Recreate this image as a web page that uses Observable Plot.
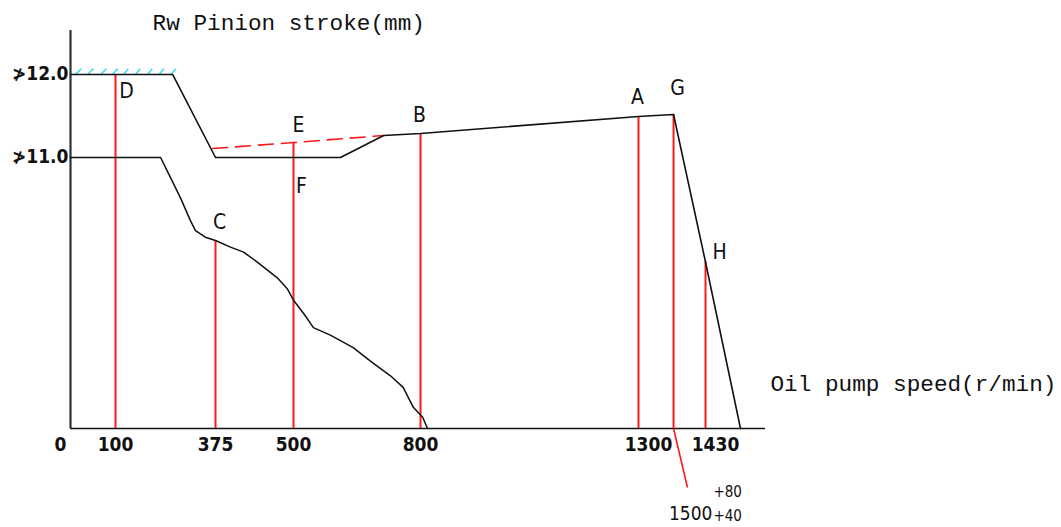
<!DOCTYPE html>
<html>
<head>
<meta charset="utf-8">
<script src="https://cdn.jsdelivr.net/npm/d3@7"></script>
<script src="https://cdn.jsdelivr.net/npm/@observablehq/plot@0.6"></script>
<style>
  html, body { margin: 0; padding: 0; background: #fff; }
  #chart { width: 1061px; height: 527px; }
</style>
</head>
<body>
<div id="chart"></div>
<script>
// ---- data (oil pump speed in r/min on a schematic axis, stroke in mm) ----
const speedTicks = [0, 100, 375, 500, 800, 1300, 1430];
const speedTickLabels = ["0", "100", "375", "500", "800", "1300", "1430"];
const strokeTicks = [12.0, 11.0];
const strokeTickLabels = ["≯12.0", "≯11.0"];
const axisMin = 7.735;
const axisTop = 12.53;
const axisEnd = 1550;

// upper (max stroke) characteristic
const upperSpeed = [0, 257, 375, 611, 713, 800, 1300, 1368, 1430, 1500];
const upperStroke = [12.0, 12.0, 11.0, 11.0, 11.265, 11.289, 11.494, 11.518, 9.741, 7.735];

// lower characteristic
const lowerSpeed = [0, 224, 251, 279, 306, 320, 347, 375, 399, 420, 442, 474, 490, 500, 524, 547, 587, 641, 681, 729, 759, 783, 805, 816];
const lowerStroke = [11.0, 11.0, 10.76, 10.51, 10.24, 10.12, 10.04, 10.0, 9.92, 9.86, 9.74, 9.55, 9.42, 9.28, 9.12, 8.95, 8.86, 8.71, 8.55, 8.37, 8.23, 7.99, 7.87, 7.735];

// red dashed (corrector) line
const dashedSpeed = [367, 500, 713];
const dashedStroke = [11.108, 11.18, 11.265];

// marked points
const pointNames = ["D", "C", "E", "F", "B", "A", "G", "H"];
const pointSpeed = [100, 375, 500, 500, 800, 1300, 1368, 1430];
const pointStroke = [12.0, 10.0, 11.18, 11.0, 11.289, 11.494, 11.518, 9.741];
const pointHasRule = [true, true, true, false, true, true, true, true];

// G speed annotation (1500 +80 / +40)
const gLeader = {x1: 1368, y1: 7.735, x2: 1395, y2: 7.024};
const gMain = "1500", gUpper = "+80", gLower = "+40";

// cyan hatch marks along the 12.0 limit
const hatchSpeed = [11, 38, 67, 93, 122, 155, 188, 220, 253];

const titleText = "Rw Pinion stroke(mm)";
const xLabelText = "Oil pump speed(r/min)";

// schematic (non-uniform) speed axis: speed -> diagram position
const axisBreaks = [0, 100, 375, 500, 800, 1300, 1430, axisEnd];
const axisPlaces = [0, 45, 145, 223, 350, 568, 635, 695];
const diagram = d3.scaleLinear().domain(axisBreaks).range(axisPlaces);

// ---- build ----
const upper = upperSpeed.map((x, i) => ({x, y: upperStroke[i]}));
const lower = lowerSpeed.map((x, i) => ({x, y: lowerStroke[i]}));
const dashed = dashedSpeed.map((x, i) => ({x, y: dashedStroke[i]}));
const points = pointNames.map((name, i) => ({name, x: pointSpeed[i], y: pointStroke[i], rule: pointHasRule[i]}));
const ticks = speedTicks.map((x, i) => ({x, label: speedTickLabels[i]}));
const labelOffsets = {D: [11, 17], C: [4, -18], E: [5, -17], F: [8, 29], B: [-1, -18], A: [-1, -19], G: [4, -26], H: [14, -10]};
const tickShift = {"0": -10, "1300": 10, "1430": 10};

const mono = "'Liberation Mono','DejaVu Sans Mono',monospace";
const narrow = "'DejaVu Sans Condensed','Liberation Sans Narrow','Liberation Sans',sans-serif";
const red = "#ff1a1a";

const marks = [
  // axes lines
  Plot.ruleX([0], {y1: axisMin, y2: axisTop, stroke: "#333", strokeWidth: 2.2}),
  Plot.ruleY([axisMin], {x1: 0, x2: axisEnd, stroke: "#111", strokeWidth: 1.6}),
  // red verticals
  Plot.ruleX(points.filter(d => d.rule), {x: "x", y1: "y", y2: axisMin, stroke: red, strokeWidth: 2}),
  Plot.link([gLeader], {x1: "x1", y1: "y1", x2: "x2", y2: "y2", stroke: red, strokeWidth: 1.6}),
  // cyan hatch
  Plot.link(hatchSpeed, {x1: d => d, y1: 12.0, x2: d => d + 13, y2: 12.07, stroke: "#3de0ee", strokeWidth: 1.6}),
  // curves
  Plot.line(dashed, {x: "x", y: "y", stroke: red, strokeWidth: 1.6, strokeDasharray: "15,8"}),
  Plot.line(upper, {x: "x", y: "y", stroke: "#111", strokeWidth: 1.6}),
  Plot.line(lower, {x: "x", y: "y", stroke: "#111", strokeWidth: 1.5}),
  // point letters
  ...points.map(d => Plot.text([d], {x: "x", y: "y", text: "name", dx: labelOffsets[d.name][0], dy: labelOffsets[d.name][1],
    fontFamily: narrow, fontSize: 21, fill: "#111"})),
  // speed tick labels
  ...ticks.map(d => Plot.text([d], {x: "x", y: axisMin, text: "label", dy: 16, dx: tickShift[d.label] || 0,
    fontFamily: narrow, fontWeight: "bold", fontSize: 19, fill: "#111", textAnchor: "middle"})),
  // stroke tick labels
  Plot.text(strokeTicks, {x: 0, y: d => d, text: (d, i) => strokeTickLabels[i], dx: -2, dy: -1,
    textAnchor: "end", fontFamily: narrow, fontWeight: "bold", fontSize: 19, fill: "#111"}),
  // G annotation
  Plot.text([gLeader], {x: "x2", y: "y2", text: () => gMain, dx: 25, dy: 26, textAnchor: "end", fontFamily: narrow, fontSize: 19, fill: "#111"}),
  Plot.text([gLeader], {x: "x2", y: "y2", text: () => gUpper, dx: 26, dy: 5, textAnchor: "start", fontFamily: narrow, fontSize: 15, fill: "#111"}),
  Plot.text([gLeader], {x: "x2", y: "y2", text: () => gLower, dx: 26, dy: 29, textAnchor: "start", fontFamily: narrow, fontSize: 15, fill: "#111"}),
  // axis titles
  Plot.text([titleText], {x: 202, y: 12.627, text: d => d, textAnchor: "start", fontFamily: mono, fontSize: 22.7, fill: "#111"}),
  Plot.text([xLabelText], {x: axisEnd, y: 8.277, text: d => d, dx: 5, textAnchor: "start", fontFamily: mono, fontSize: 22.7, fill: "#111"})
];

const chart = Plot.plot({
  width: 1061,
  height: 527,
  marginTop: 30,
  marginBottom: 99,
  marginLeft: 70,
  marginRight: 296,
  style: {background: "#fff", overflow: "visible"},
  x: {axis: null, transform: diagram, domain: [0, 695]},
  y: {axis: null, domain: [axisMin, axisTop]},
  marks
});
document.getElementById("chart").appendChild(chart);
</script>
</body>
</html>
